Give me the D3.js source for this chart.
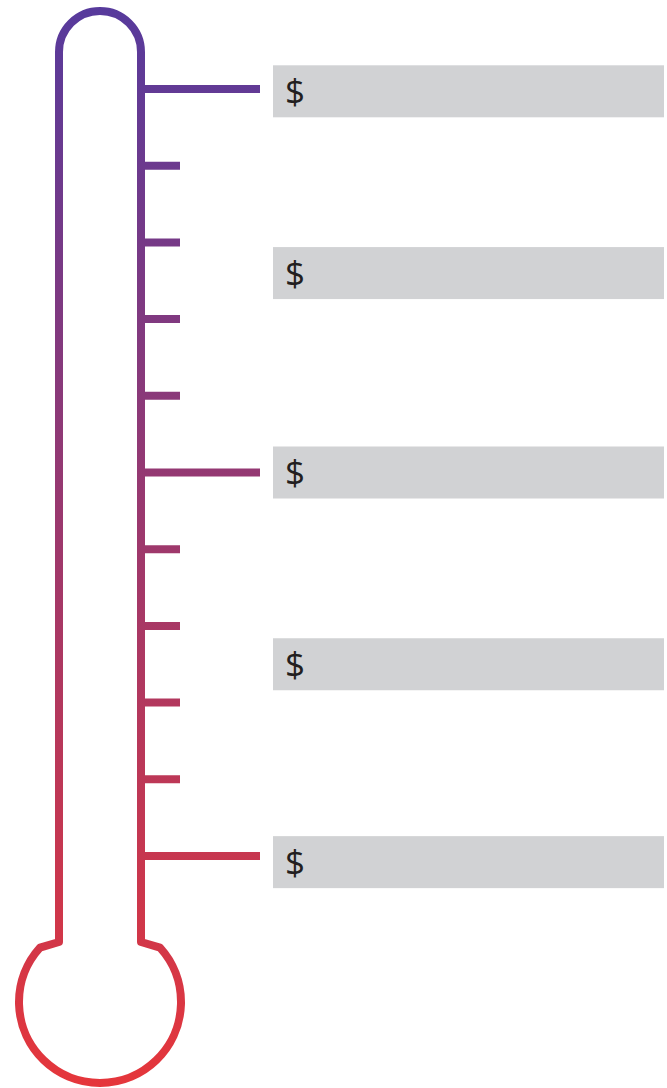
<!DOCTYPE html>
<head>
	<meta charset="utf-8" />
	<style>
		body {
			margin: 0;
			background-color: #fff;
			overflow: hidden;
		}
	</style>
</head>

<body>
	<div id="chart-area"></div>

	<script src="https://cdnjs.cloudflare.com/ajax/libs/d3/7.8.5/d3.min.js"></script>

	<script>
		// tick levels on the thermometer (percent of goal)
		const tickValues = [0, 10, 20, 30, 40, 50, 60, 70, 80, 90, 100];
		const majorTicks = [0, 50, 100];
		// label boxes, placed at these levels
		const labelLevels = [99.7, 76, 50, 25, -0.8];
		const labelTexts = ['$', '$', '$', '$', '$'];
		const gradientStops = ['#573a9c', '#e5363b'];

		const width = 667, height = 1088;

		const svg = d3.select('#chart-area')
			.append('svg')
			.attr('width', width)
			.attr('height', height);

		const y = d3.scaleLinear().domain([0, 100]).range([856, 89]);

		// vertical gradient for the whole glass
		const grad = svg.append('defs')
			.append('linearGradient')
			.attr('id', 'glass')
			.attr('gradientUnits', 'userSpaceOnUse')
			.attr('x1', 0).attr('x2', 0)
			.attr('y1', 8).attr('y2', 1085);
		grad.selectAll('stop')
			.data(gradientStops)
			.join('stop')
			.attr('offset', (d, i) => i / (gradientStops.length - 1))
			.attr('stop-color', d => d);

		const tubeL = 59, tubeR = 141, tubeTop = 52, tubeBottom = 942;
		const r = (tubeR - tubeL) / 2;
		const bulb = { cx: 100, cy: 1002, r: 81 };
		const bx = 60, by = Math.sqrt(bulb.r * bulb.r - bx * bx);

		const p = d3.path();
		p.moveTo(tubeL, tubeBottom);
		p.lineTo(tubeL, tubeTop);
		p.arc(tubeL + r, tubeTop, r, Math.PI, 0);
		p.lineTo(tubeR, tubeBottom);
		p.lineTo(bulb.cx + bx, bulb.cy - by);
		let a0 = Math.atan2(-by, bx), a1 = Math.atan2(-by, -bx);
		p.arc(bulb.cx, bulb.cy, bulb.r, a0, a1 + 2 * Math.PI * (a1 < a0 ? 1 : 0));
		p.closePath();

		svg.append('path')
			.attr('d', p.toString())
			.attr('fill', 'none')
			.attr('stroke', 'url(#glass)')
			.attr('stroke-width', 8)
			.attr('stroke-linejoin', 'round');

		svg.append('g')
			.selectAll('line')
			.data(tickValues)
			.join('line')
			.attr('x1', tubeR)
			.attr('x2', d => majorTicks.includes(d) ? 260 : 180)
			.attr('y1', d => y(d))
			.attr('y2', d => y(d))
			.attr('stroke', 'url(#glass)')
			.attr('stroke-width', 8);

		const labels = svg.append('g')
			.selectAll('g')
			.data(labelLevels)
			.join('g')
			.attr('transform', d => `translate(273,${y(d)})`);

		labels.append('rect')
			.attr('x', 0)
			.attr('y', -26)
			.attr('width', 664 - 273)
			.attr('height', 52)
			.attr('fill', '#d1d2d4');

		labels.append('text')
			.attr('x', 12)
			.attr('y', 0)
			.attr('dy', '0.36em')
			.attr('font-family', '"Open Sans", sans-serif')
			.attr('font-size', 35)
			.attr('fill', '#231f20')
			.text((d, i) => labelTexts[i]);
	</script>
</body>
